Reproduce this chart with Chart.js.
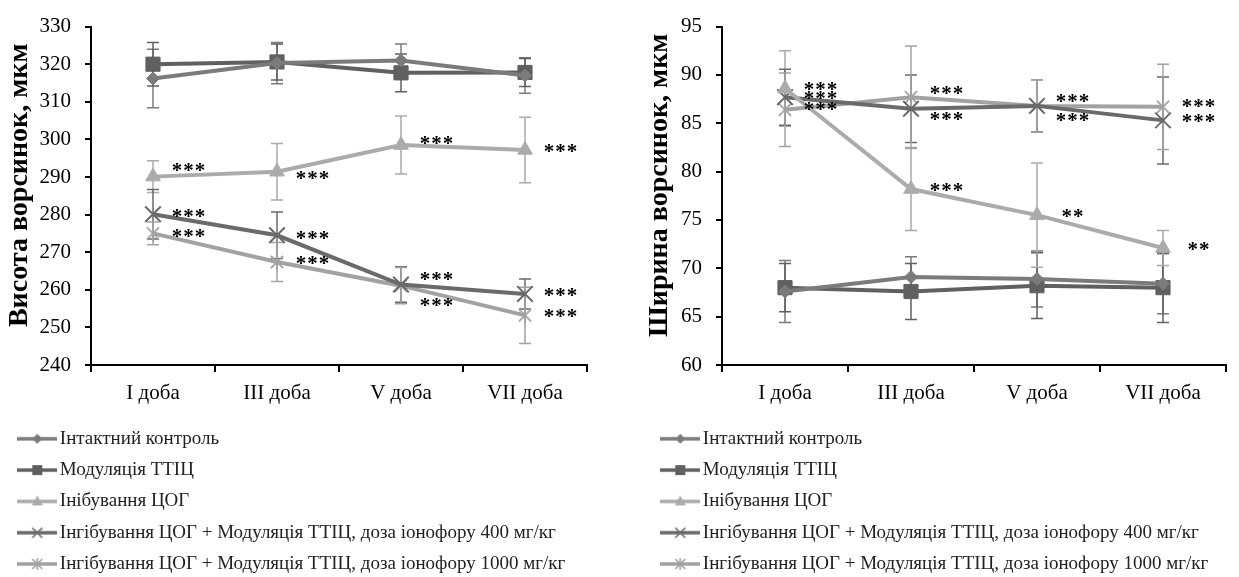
<!DOCTYPE html>
<html><head><meta charset="utf-8">
<script src="https://cdn.jsdelivr.net/npm/chart.js@4.4.1/dist/chart.umd.min.js"></script>
<style>
html,body{margin:0;padding:0;background:#fff;}
#wrap{position:relative;width:1239px;height:577px;overflow:hidden;background:#fff;}
canvas{position:absolute;display:block;}
</style></head><body>
<div id="wrap">
<canvas id="hL" width="620" height="415" style="left:0;top:0"></canvas>
<canvas id="hR" width="619" height="415" style="left:620px;top:0"></canvas>
<canvas id="lL" width="1239" height="200" style="left:0;top:417px"></canvas>
<canvas id="lR" width="1239" height="200" style="left:620px;top:417px"></canvas>
</div>
<script>
// ---------- data ----------
const categories = ['I доба', 'III доба', 'V доба', 'VII доба'];
const seriesNames = [
  'Інтактний контроль',
  'Модуляція ТТІЦ',
  'Інібування ЦОГ',
  'Інгібування ЦОГ + Модуляція ТТІЦ, доза іонофору 400 мг/кг',
  'Інгібування ЦОГ + Модуляція ТТІЦ, доза іонофору 1000 мг/кг'
];

// Висота ворсинок, мкм
const heightControl     = [316.2, 320.3, 321.0, 317.0];
const heightModulation  = [320.0, 320.6, 317.7, 317.8];
const heightInhibition  = [290.1, 291.4, 298.5, 297.2];
const heightCombo400    = [280.1, 274.5, 261.4, 258.9];
const heightCombo1000   = [275.0, 267.4, 261.1, 253.2];
const heightControlErr    = [7.8, 5.5, 4.4, 4.7];
const heightModulationErr = [5.8, 4.8, 5.0, 3.7];
const heightInhibitionErr = [4.2, 7.5, 7.7, 8.7];
const heightCombo400Err   = [6.6, 6.2, 4.7, 4.0];
const heightCombo1000Err  = [3.0, 5.2, 4.8, 7.5];
const heightAxis = [240, 330, 10];
const heightTitle = 'Висота ворсинок, мкм';
// significance marks: [category index, value level, text]
const heightMarks = [
  [0, 293.0, '***'], [1, 290.8, '***'], [2, 300.2, '***'], [3, 298.1, '***'],
  [0, 280.7, '***'], [0, 275.4, '***'], [1, 274.9, '***'], [1, 268.3, '***'],
  [2, 263.9, '***'], [2, 256.9, '***'], [3, 259.8, '***'], [3, 254.1, '***']
];

// Ширина ворсинок, мкм
const widthControl     = [67.6, 69.1, 68.9, 68.4];
const widthModulation  = [68.0, 67.6, 68.2, 68.0];
const widthInhibition  = [88.6, 78.2, 75.5, 72.1];
const widthCombo400    = [87.7, 86.5, 86.8, 85.3];
const widthCombo1000   = [86.4, 87.7, 86.8, 86.7];
const widthControlErr    = [3.2, 2.1, 2.9, 3.1];
const widthModulationErr = [2.5, 2.9, 3.4, 3.6];
const widthInhibitionErr = [3.9, 4.3, 5.4, 1.8];
const widthCombo400Err   = [2.9, 3.5, 2.7, 4.5];
const widthCombo1000Err  = [3.8, 5.3, 2.7, 4.4];
const widthAxis = [60, 95, 5];
const widthTitle = 'Ширина ворсинок, мкм';
const widthMarks = [
  [0, 89.0, '***'], [0, 88.0, '***'], [0, 86.9, '***'],
  [1, 88.5, '***'], [1, 85.9, '***'], [1, 78.5, '***'],
  [2, 87.7, '***'], [2, 85.8, '***'], [2, 75.8, '**'],
  [3, 87.2, '***'], [3, 85.7, '***'], [3, 72.4, '**']
];

// ---------- styles ----------
const colors = ['#7b7b7b', '#606060', '#ababab', '#6a6a6a', '#a2a2a2'];
const SERIF = '"Liberation Serif", "Times New Roman", serif';

function starCanvas(color, size, lw) {
  const c = document.createElement('canvas');
  c.width = size; c.height = size;
  const g = c.getContext('2d');
  g.strokeStyle = color; g.lineWidth = lw;
  const m = size / 2, r = size / 2 - 1.5;
  g.beginPath();
  g.moveTo(m - r * 0.72, m - r * 0.72); g.lineTo(m + r * 0.72, m + r * 0.72);
  g.moveTo(m + r * 0.72, m - r * 0.72); g.lineTo(m - r * 0.72, m + r * 0.72);
  g.moveTo(m, m - r); g.lineTo(m, m + r);
  g.stroke();
  return c;
}

const markerStyles = ['rectRot', 'rect', 'triangle', 'crossRot', starCanvas(colors[4], 20, 1.8)];
const markerRadius = [6.5, 10, 8.5, 11, 10];

function legendIcon(i) {
  const c = document.createElement('canvas');
  c.width = 40; c.height = 16;
  const g = c.getContext('2d');
  g.strokeStyle = colors[i]; g.fillStyle = colors[i];
  g.lineWidth = 3.5;
  g.beginPath(); g.moveTo(0, 8); g.lineTo(40, 8); g.stroke();
  const x = 20, y = 8;
  g.beginPath();
  if (i === 0) { g.moveTo(x, y - 5); g.lineTo(x + 5, y); g.lineTo(x, y + 5); g.lineTo(x - 5, y); g.closePath(); g.fill(); }
  else if (i === 1) { g.fillRect(x - 5, y - 5, 10, 10); }
  else if (i === 2) { g.moveTo(x, y - 6); g.lineTo(x + 5.5, y + 4); g.lineTo(x - 5.5, y + 4); g.closePath(); g.fill(); }
  else if (i === 3) { g.lineWidth = 1.6; g.moveTo(x - 5, y - 5); g.lineTo(x + 5, y + 5); g.moveTo(x + 5, y - 5); g.lineTo(x - 5, y + 5); g.stroke(); }
  else { g.lineWidth = 1.6; g.moveTo(x - 5, y - 5); g.lineTo(x + 5, y + 5); g.moveTo(x + 5, y - 5); g.lineTo(x - 5, y + 5); g.moveTo(x, y - 6); g.lineTo(x, y + 6); g.stroke(); }
  return c;
}

// ---------- plugins ----------
const errorBarsPlugin = {
  id: 'errorBars',
  beforeDatasetsDraw(chart) {
    const ctx = chart.ctx, ys = chart.scales.y;
    chart.data.datasets.forEach((ds, i) => {
      if (!ds.errors) return;
      const meta = chart.getDatasetMeta(i);
      ctx.save();
      ctx.strokeStyle = ds.borderColor; ctx.lineWidth = 1.5;
      meta.data.forEach((pt, j) => {
        const v = ds.data[j], e = ds.errors[j];
        const t = ys.getPixelForValue(v + e), b = ys.getPixelForValue(v - e);
        ctx.beginPath();
        ctx.moveTo(pt.x, t); ctx.lineTo(pt.x, b);
        ctx.moveTo(pt.x - 6, t); ctx.lineTo(pt.x + 6, t);
        ctx.moveTo(pt.x - 6, b); ctx.lineTo(pt.x + 6, b);
        ctx.stroke();
      });
      ctx.restore();
    });
  }
};

const marksPlugin = {
  id: 'sigMarks',
  afterDatasetsDraw(chart, args, opts) {
    if (!opts.items) return;
    const ctx = chart.ctx, xs = chart.scales.x, ys = chart.scales.y;
    ctx.save();
    ctx.fillStyle = '#000';
    ctx.font = 'bold 21px ' + SERIF;
    ctx.textAlign = 'center';
    ctx.textBaseline = 'alphabetic';
    try { ctx.letterSpacing = '1px'; } catch (e) {}
    opts.items.forEach(([c, v, t]) => {
      const x = xs.getPixelForValue(c) + opts.dx;
      const y = ys.getPixelForValue(v);
      ctx.fillText(t, x, y + 11);
    });
    ctx.restore();
  }
};

function makeDatasets(values, errors) {
  return values.map((vals, i) => ({
    label: seriesNames[i],
    data: vals,
    errors: errors[i],
    borderColor: colors[i],
    backgroundColor: colors[i],
    borderWidth: 4,
    pointStyle: markerStyles[i],
    pointRadius: markerRadius[i],
    pointHoverRadius: markerRadius[i],
    pointBorderWidth: i >= 3 ? 2 : 1,
    pointBorderColor: colors[i],
    pointBackgroundColor: colors[i],
    tension: 0,
    clip: false
  }));
}

function makeChart(id, values, errors, axis, title, marks, yWidth, padRight, titlePad) {
  return new Chart(document.getElementById(id), {
    type: 'line',
    data: { labels: categories, datasets: makeDatasets(values, errors) },
    plugins: [errorBarsPlugin, marksPlugin],
    options: {
      responsive: false,
      animation: false,
      layout: { padding: { left: 0, right: padRight, top: 25, bottom: 0 } },
      plugins: {
        legend: { display: false },
        tooltip: { enabled: false },
        sigMarks: { items: marks, dx: 36 }
      },
      scales: {
        x: {
          type: 'category',
          offset: true,
          grid: { offset: true, drawOnChartArea: false, drawTicks: true, tickLength: 7, color: '#000', lineWidth: 2 },
          border: { display: true, color: '#000', width: 2 },
          ticks: { color: '#000', font: { family: SERIF, size: 21 }, padding: 9, maxRotation: 0 },
          afterFit(s) { s.height = 50; }
        },
        y: {
          min: axis[0], max: axis[1],
          grid: { drawOnChartArea: false, drawTicks: true, tickLength: 6, color: '#000', lineWidth: 2 },
          border: { display: true, color: '#000', width: 2 },
          ticks: { stepSize: axis[2], color: '#000', font: { family: SERIF, size: 21 }, padding: 14 },
          title: { display: true, text: '   ' + title, color: '#000', font: { family: SERIF, size: 28, weight: 'bold' }, padding: { top: titlePad, bottom: 0 } },
          afterFit(s) { s.width = yWidth; }
        }
      }
    }
  });
}

makeChart('hL',
  [heightControl, heightModulation, heightInhibition, heightCombo400, heightCombo1000],
  [heightControlErr, heightModulationErr, heightInhibitionErr, heightCombo400Err, heightCombo1000Err],
  heightAxis, heightTitle, heightMarks, 91, 33, 3);

makeChart('hR',
  [widthControl, widthModulation, widthInhibition, widthCombo400, widthCombo1000],
  [widthControlErr, widthModulationErr, widthInhibitionErr, widthCombo400Err, widthCombo1000Err],
  widthAxis, widthTitle, widthMarks, 102, 13, 23);

function makeLegend(id, padLeft) {
  const icons = seriesNames.map((n, i) => legendIcon(i));
  return new Chart(document.getElementById(id), {
    type: 'line',
    data: { labels: [], datasets: seriesNames.map((n, i) => ({ label: n, data: [], borderColor: colors[i], backgroundColor: colors[i] })) },
    options: {
      responsive: false,
      animation: false,
      layout: { padding: { left: padLeft, top: 0 } },
      scales: { x: { display: false }, y: { display: false } },
      plugins: {
        tooltip: { enabled: false },
        legend: {
          position: 'left', align: 'start',
          onClick: null,
          labels: {
            usePointStyle: true,
            pointStyleWidth: 26,
            padding: 12.3,
            color: '#222',
            font: { family: SERIF, size: 19 },
            generateLabels(chart) {
              return chart.data.datasets.map((ds, i) => ({
                text: ds.label, pointStyle: icons[i], fillStyle: colors[i], strokeStyle: colors[i],
                lineWidth: 0, hidden: false, datasetIndex: i, fontColor: '#222'
              }));
            }
          }
        }
      }
    }
  });
}
makeLegend('lL', 12);
makeLegend('lR', 35);
</script>
</body></html>
